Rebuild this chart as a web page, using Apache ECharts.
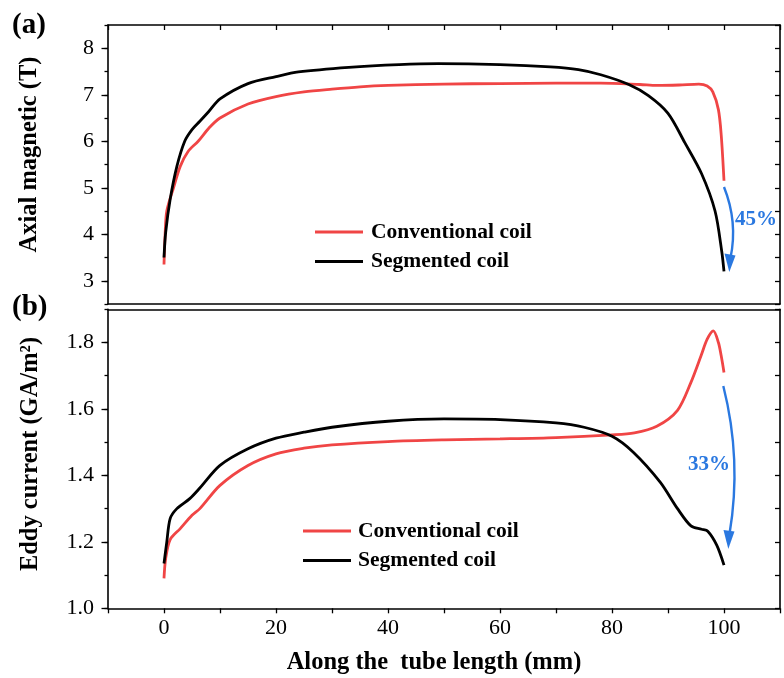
<!DOCTYPE html>
<html>
<head>
<meta charset="utf-8">
<script src="https://cdn.jsdelivr.net/npm/echarts@6/dist/echarts.min.js"></script>
<style>
html,body{margin:0;padding:0;background:#fff;}
#chart{width:784px;height:678px;}
</style>
</head>
<body>
<div id="chart"></div>
<script>
// ---- Data ----
const seriesNames = ['Conventional coil', 'Segmented coil'];
// (a) Axial magnetic (T)
const posA_conv = [0,0.2,0.5,1.7,2.9,4.3,6.1,8,10,15,20,25,30,35,40,50,60,70,78,85,88,92,95.5,97,98,99,99.5,100];
const magA_conv = [3.35,4.0,4.5,5.0,5.46,5.78,6.0,6.28,6.5,6.8,6.96,7.06,7.12,7.17,7.2,7.23,7.24,7.25,7.25,7.22,7.2,7.21,7.23,7.19,7.06,6.68,6.14,5.15];
const posA_seg = [0,0.3,1.1,2.3,3.7,5,6.4,8,10,15,20,24,33,42,49,60,69,74,78,83,86.5,90,93,96,98.4,99.6,100];
const magA_seg = [3.5,4.04,4.75,5.46,6.0,6.25,6.43,6.64,6.91,7.24,7.39,7.49,7.59,7.65,7.67,7.65,7.6,7.54,7.43,7.22,6.98,6.6,5.97,5.3,4.5,3.63,3.2];
// (b) Eddy current (GA/m2)
const posB_conv = [0,0.3,1.1,2.9,5,6.4,10,15,20,25,30,40,50,60,70,80,84,88,91.7,94.1,95.9,97,98.1,99,99.5,100];
const curB_conv = [1.09,1.15,1.207,1.24,1.28,1.30,1.37,1.43,1.465,1.482,1.492,1.502,1.507,1.51,1.514,1.522,1.528,1.548,1.596,1.68,1.76,1.81,1.835,1.80,1.76,1.71];
const posB_seg = [0,0.5,1.1,2.3,4.6,6.4,10,15,20,25,30,40,50,60,70,75,80,83.8,88.6,91.7,94.1,96,97.1,98.7,100];
const curB_seg = [1.135,1.2,1.27,1.30,1.33,1.362,1.43,1.48,1.512,1.53,1.545,1.563,1.57,1.568,1.558,1.545,1.518,1.47,1.38,1.30,1.248,1.238,1.232,1.19,1.13];
// Axis ranges / ticks
const xRange = [-10, 110];
const xTickLabels = [0, 20, 40, 60, 80, 100];
const yRangeA = [2.5, 8.5];
const yTickLabelsA = [3, 4, 5, 6, 7, 8];
const yRangeB = [1.0, 1.9];
const yTickLabelsB = [1.0, 1.2, 1.4, 1.6, 1.8];
const annotations = ['45%', '33%'];

// ---- Styles ----
const RED = '#f04545';
const BLACK = '#000000';
const BLUE = '#2a78e0';
const SERIF = '"Liberation Serif", "Times New Roman", serif';
const LINE = {lineStyle: {color: '#000', width: 1.6}};

function zip(xs, ys) { return xs.map((x, i) => [x, ys[i]]); }

const chart = echarts.init(document.getElementById('chart'), null, {renderer: 'canvas'});

const gridLeft = 108, gridW = 672;
const topA = 25, botA = 304;
const topB = 309.3, botB = 608.3;
function yPix(v, range, top, bot) { return top + (range[1] - v) / (range[1] - range[0]) * (bot - top); }
const labATop = yPix(yTickLabelsA[yTickLabelsA.length-1], yRangeA, topA, botA);
const labABot = yPix(yTickLabelsA[0], yRangeA, topA, botA);
const labBTop = yPix(yTickLabelsB[yTickLabelsB.length-1], yRangeB, topB, botB);
const labBBot = yPix(yTickLabelsB[0], yRangeB, topB, botB);

const seriesBase = {type: 'line', showSymbol: false, smooth: 0.3, z: 3};

const option = {
  animation: false,
  backgroundColor: '#fff',
  grid: [
    {left: gridLeft, top: topA, width: gridW, height: botA - topA},
    {left: gridLeft, top: labATop, width: gridW, height: labABot - labATop},
    {left: gridLeft, top: topB, width: gridW, height: botB - topB},
    {left: gridLeft, top: labBTop, width: gridW, height: labBBot - labBTop}
  ],
  xAxis: [
    {gridIndex: 0, type: 'value', position: 'bottom', min: xRange[0], max: xRange[1], interval: 10,
     axisLine: Object.assign({show: true, onZero: false}, LINE), axisTick: {show: false}, axisLabel: {show: false}, splitLine: {show: false}},
    {gridIndex: 0, type: 'value', position: 'top', min: xRange[0], max: xRange[1], interval: 10,
     axisLine: Object.assign({show: true, onZero: false}, LINE), axisTick: {show: true, inside: true, length: 5, lineStyle: {color: '#000', width: 1.3}}, axisLabel: {show: false}, splitLine: {show: false}},
    {gridIndex: 1, type: 'value', min: xRange[0], max: xRange[1], show: false, axisLine: {onZero: false}},
    {gridIndex: 2, type: 'value', position: 'bottom', min: xRange[0], max: xRange[1], interval: 10,
     axisLine: Object.assign({show: true, onZero: false}, LINE),
     axisTick: {show: true, inside: false, length: 5, lineStyle: {color: '#000', width: 1.3}},
     axisLabel: {show: true, margin: 9, color: '#000', fontFamily: SERIF, fontSize: 22,
       formatter: v => (xTickLabels.indexOf(Math.round(v)) >= 0 ? String(Math.round(v)) : '')},
     splitLine: {show: false}},
    {gridIndex: 2, type: 'value', position: 'top', min: xRange[0], max: xRange[1], interval: 10,
     axisLine: Object.assign({show: true, onZero: false}, LINE), axisTick: {show: false}, axisLabel: {show: false}, splitLine: {show: false}},
    {gridIndex: 3, type: 'value', min: xRange[0], max: xRange[1], show: false, axisLine: {onZero: false}}
  ],
  yAxis: [
    {gridIndex: 0, type: 'value', position: 'left', min: yRangeA[0], max: yRangeA[1], interval: 0.5,
     axisLine: Object.assign({show: true, onZero: false}, LINE), axisTick: {show: true, inside: false, length: 3.5, lineStyle: {color: '#000', width: 1.3}}, axisLabel: {show: false}, splitLine: {show: false}},
    {gridIndex: 0, type: 'value', position: 'right', min: yRangeA[0], max: yRangeA[1], interval: 0.5,
     axisLine: Object.assign({show: true, onZero: false}, LINE), axisTick: {show: true, inside: true, length: 5, lineStyle: {color: '#000', width: 1.3}}, axisLabel: {show: false}, splitLine: {show: false}},
    {gridIndex: 1, type: 'value', position: 'left', min: yTickLabelsA[0], max: yTickLabelsA[yTickLabelsA.length-1], interval: 1,
     axisLine: {show: false, onZero: false}, axisTick: {show: true, inside: false, length: 6.5, lineStyle: {color: '#000', width: 1.3}},
     axisLabel: {show: true, margin: 14, color: '#000', fontFamily: SERIF, fontSize: 22}, splitLine: {show: false}},
    {gridIndex: 2, type: 'value', position: 'left', min: yRangeB[0], max: yRangeB[1], interval: 0.1,
     axisLine: Object.assign({show: true, onZero: false}, LINE), axisTick: {show: true, inside: false, length: 3.5, lineStyle: {color: '#000', width: 1.3}}, axisLabel: {show: false}, splitLine: {show: false}},
    {gridIndex: 2, type: 'value', position: 'right', min: yRangeB[0], max: yRangeB[1], interval: 0.1,
     axisLine: Object.assign({show: true, onZero: false}, LINE), axisTick: {show: true, inside: true, length: 5, lineStyle: {color: '#000', width: 1.3}}, axisLabel: {show: false}, splitLine: {show: false}},
    {gridIndex: 3, type: 'value', position: 'left', min: yTickLabelsB[0], max: yTickLabelsB[yTickLabelsB.length-1], interval: 0.2,
     axisLine: {show: false, onZero: false}, axisTick: {show: true, inside: false, length: 6.5, lineStyle: {color: '#000', width: 1.3}},
     axisLabel: {show: true, margin: 14, color: '#000', fontFamily: SERIF, fontSize: 22, formatter: v => v.toFixed(1)}, splitLine: {show: false}}
  ],
  legend: [
    {data: seriesNames, orient: 'vertical', left: 315, top: 221, padding: 0, itemGap: 7.5, itemWidth: 48, itemHeight: 3, icon: 'rect',
     textStyle: {fontFamily: SERIF, fontWeight: 'bold', fontSize: 21.5, color: '#000', lineHeight: 21, padding: [0, 0, 0, 3]}, selectedMode: false},
    {data: seriesNames, orient: 'vertical', left: 303, top: 520, padding: 0, itemGap: 7.5, itemWidth: 48, itemHeight: 3, icon: 'rect',
     textStyle: {fontFamily: SERIF, fontWeight: 'bold', fontSize: 21.5, color: '#000', lineHeight: 21, padding: [0, 0, 0, 2]}, selectedMode: false}
  ],
  series: [
    Object.assign({}, seriesBase, {name: seriesNames[0], xAxisIndex: 0, yAxisIndex: 0, data: zip(posA_conv, magA_conv), itemStyle: {color: RED}, lineStyle: {color: RED, width: 2.8}}),
    Object.assign({}, seriesBase, {name: seriesNames[1], xAxisIndex: 0, yAxisIndex: 0, data: zip(posA_seg, magA_seg), itemStyle: {color: BLACK}, lineStyle: {color: BLACK, width: 2.8}}),
    Object.assign({}, seriesBase, {name: seriesNames[0], xAxisIndex: 3, yAxisIndex: 3, data: zip(posB_conv, curB_conv), itemStyle: {color: RED}, lineStyle: {color: RED, width: 2.8}}),
    Object.assign({}, seriesBase, {name: seriesNames[1], xAxisIndex: 3, yAxisIndex: 3, data: zip(posB_seg, curB_seg), itemStyle: {color: BLACK}, lineStyle: {color: BLACK, width: 2.8}})
  ],
  graphic: [
    {type: 'text', x: 12, y: 26, style: {text: '(a)', font: 'bold 29px ' + SERIF, fill: '#000', textVerticalAlign: 'middle'}},
    {type: 'text', x: 12, y: 308, style: {text: '(b)', font: 'bold 29px ' + SERIF, fill: '#000', textVerticalAlign: 'middle'}},
    {type: 'text', x: 30, y: 154.5, rotation: Math.PI / 2,
     style: {text: 'Axial magnetic (T)', font: 'bold 24.5px ' + SERIF, fill: '#000', textAlign: 'center', textVerticalAlign: 'middle'}},
    {type: 'text', x: 31, y: 454, rotation: Math.PI / 2,
     style: {text: 'Eddy current (GA/m\u00B2)', font: 'bold 24.5px ' + SERIF, fill: '#000', textAlign: 'center', textVerticalAlign: 'middle'}},
    {type: 'text', x: 434, y: 663,
     style: {text: 'Along the  tube length (mm)', font: 'bold 24.5px ' + SERIF, fill: '#000', textAlign: 'center', textVerticalAlign: 'middle'}},
    // arrow (a)
    {type: 'bezierCurve', shape: {x1: 724, y1: 187, cpx1: 738, cpy1: 222, x2: 730.5, y2: 258}, style: {stroke: BLUE, lineWidth: 2.4, fill: null}},
    {type: 'polygon', shape: {points: [[729.3, 272], [724.5, 253.5], [735.5, 255.5]]}, style: {fill: BLUE}},
    {type: 'text', x: 735, y: 220, style: {text: annotations[0], font: 'bold 21px ' + SERIF, fill: BLUE, textVerticalAlign: 'middle'}},
    // arrow (b)
    {type: 'bezierCurve', shape: {x1: 723.3, y1: 386, cpx1: 742, cpy1: 460, x2: 729.5, y2: 534}, style: {stroke: BLUE, lineWidth: 2.4, fill: null}},
    {type: 'polygon', shape: {points: [[728.3, 549], [723.5, 530], [734.5, 531.5]]}, style: {fill: BLUE}},
    {type: 'text', x: 688, y: 465, style: {text: annotations[1], font: 'bold 21px ' + SERIF, fill: BLUE, textVerticalAlign: 'middle'}}
  ]
};
chart.setOption(option);
</script>
</body>
</html>
